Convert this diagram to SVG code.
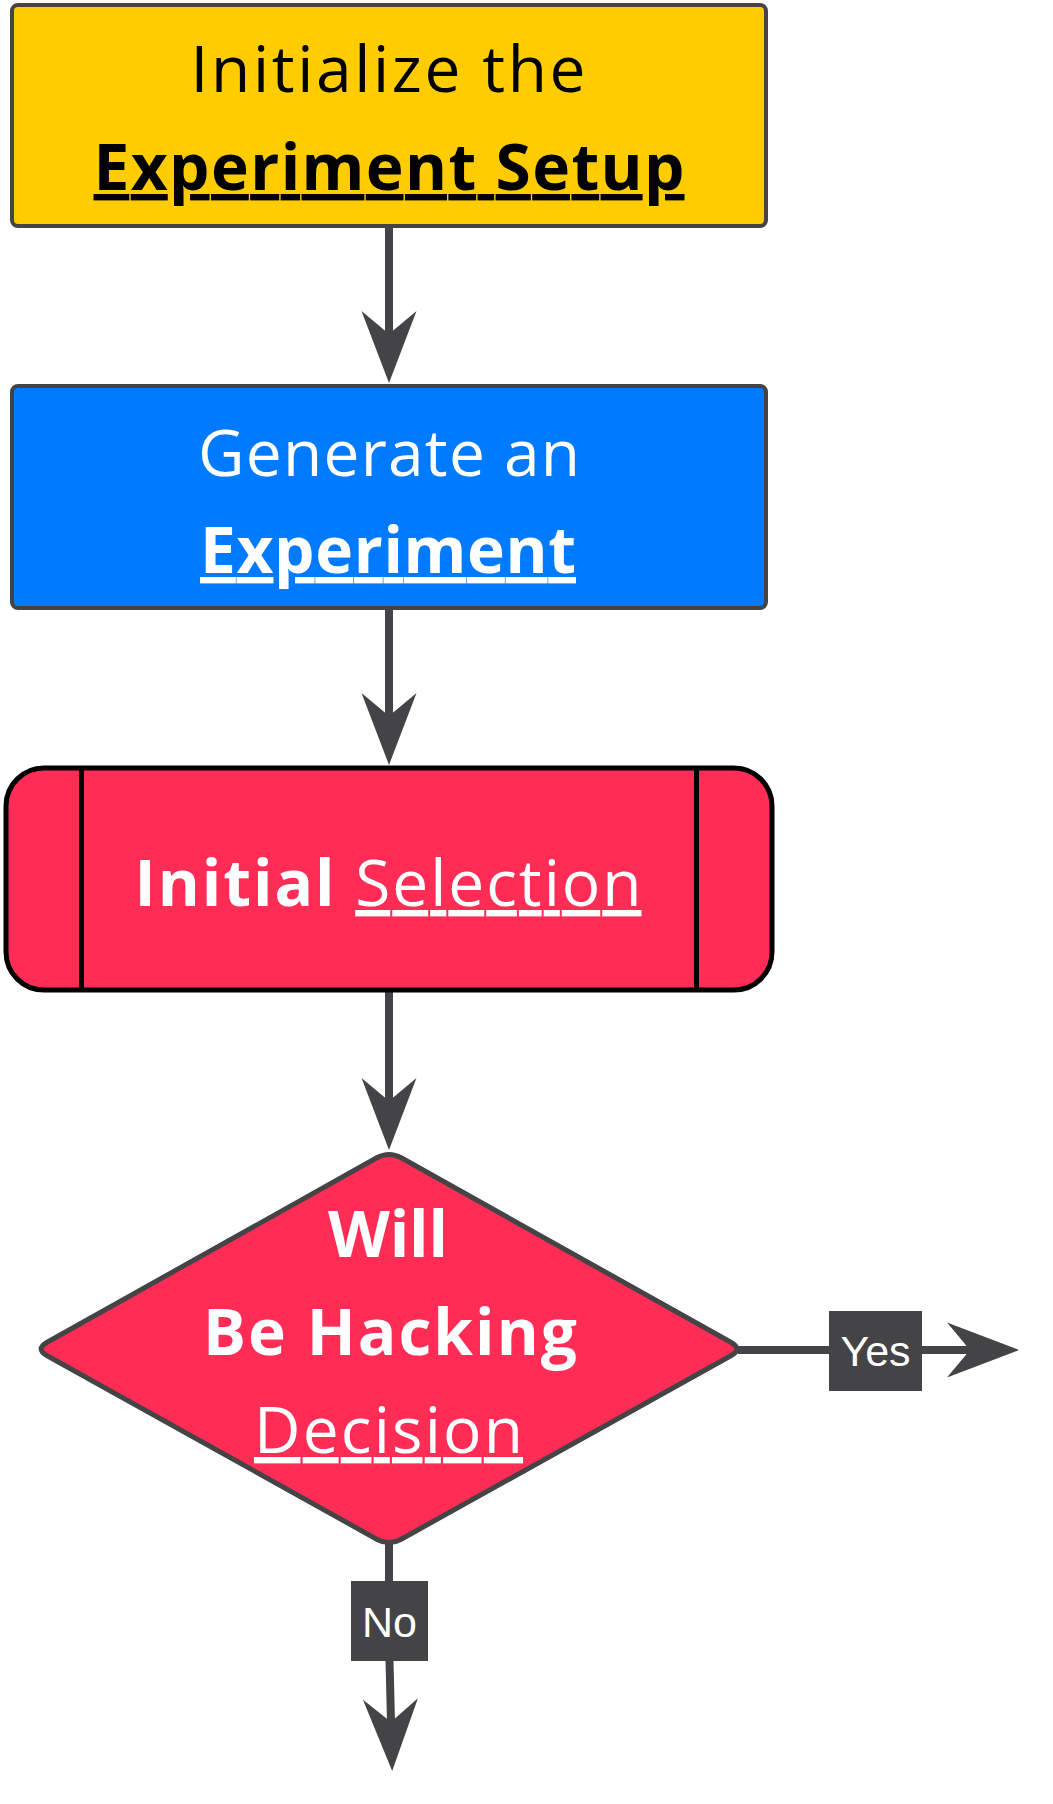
<svg xmlns="http://www.w3.org/2000/svg" width="1053" height="1804" viewBox="0 0 1053 1804">
<style>
.t{font-family:"Open Sans","Noto Sans","Liberation Sans",sans-serif;font-size:64px;text-anchor:middle}
.b{font-weight:700}
.w{fill:#ffffff}
.k{fill:#000000}
.u{text-decoration:underline;text-decoration-skip-ink:auto}
.ub{text-decoration-thickness:6px;text-underline-offset:5px}
.ur{text-decoration-thickness:4.5px;text-underline-offset:6px}
.conn{stroke:#444446;stroke-width:8;fill:none}
.box{stroke:#444446;stroke-width:4}
.lblbox{fill:#444446}
.lt{font-family:"Liberation Sans",Arial,sans-serif;font-size:43px;fill:#ffffff;text-anchor:middle}
</style>
<defs>
<marker id="ah" markerUnits="userSpaceOnUse" markerWidth="72" markerHeight="56" viewBox="-23 -28 72 56" refX="0" refY="0" orient="auto" overflow="visible">
<path d="M49,0 L-23,-27.5 L0,0 L-23,27.5 Z" fill="#444446"/>
</marker>
</defs>

<g id="connectors">
<path class="conn" d="M389,228 L389,334" marker-end="url(#ah)"/>
<path class="conn" d="M389,610 L389,716" marker-end="url(#ah)"/>
<path class="conn" d="M389,992 L389,1101" marker-end="url(#ah)"/>
<path class="conn" d="M738,1350 L970,1350" marker-end="url(#ah)"/>
<path class="conn" d="M389,1544 L389,1640 L391,1722" marker-end="url(#ah)"/>
<g id="label-yes">
<rect class="lblbox" x="829" y="1311" width="93" height="80"/>
<text class="lt" x="875.5" y="1366">Yes</text>
</g>
<g id="label-no">
<rect class="lblbox" x="351" y="1581" width="77" height="80"/>
<text class="lt" x="389.5" y="1637">No</text>
</g>
</g>

<g id="node-init">
<rect class="box" x="12" y="5" width="754" height="221" rx="6" fill="#FFCC00"/>
<text class="t k" x="388" y="92" textLength="395">Initialize the</text>
<text class="t k b u ub" x="389" y="190" textLength="591" style="text-decoration-color:#333333">Experiment Setup</text>
</g>

<g id="node-generate">
<rect class="box" x="12" y="386" width="754" height="222" rx="6" fill="#007AFF"/>
<text class="t w" x="389" y="476" textLength="382">Generate an</text>
<text class="t w b u ub" x="388" y="573" textLength="376">Experiment</text>
</g>

<g id="node-selection">
<rect x="6" y="768" width="766" height="222" rx="38" fill="#FF2D55" stroke="#000000" stroke-width="5"/>
<line x1="81.5" y1="768" x2="81.5" y2="990" stroke="#000000" stroke-width="5"/>
<line x1="696.5" y1="768" x2="696.5" y2="990" stroke="#000000" stroke-width="5"/>
<text class="t w" x="388" y="906" textLength="507"><tspan class="b">Initial</tspan> <tspan class="u ur">Selection</tspan></text>
</g>

<g id="node-decision">
<path d="M376.8,1157.8 Q389,1151 401.2,1157.8 L730.8,1342.2 Q743,1349 730.8,1355.8 L401.2,1539.2 Q389,1546 376.8,1539.2 L47.2,1355.8 Q35,1349 47.2,1342.2 Z" fill="#FF2D55" stroke="#444446" stroke-width="5" stroke-linejoin="round"/>
<text class="t w b" x="388" y="1257" textLength="120">Will</text>
<text class="t w b" x="390" y="1355" textLength="374">Be Hacking</text>
<text class="t w u ur" x="388.5" y="1453" textLength="269">Decision</text>
</g>
</svg>
